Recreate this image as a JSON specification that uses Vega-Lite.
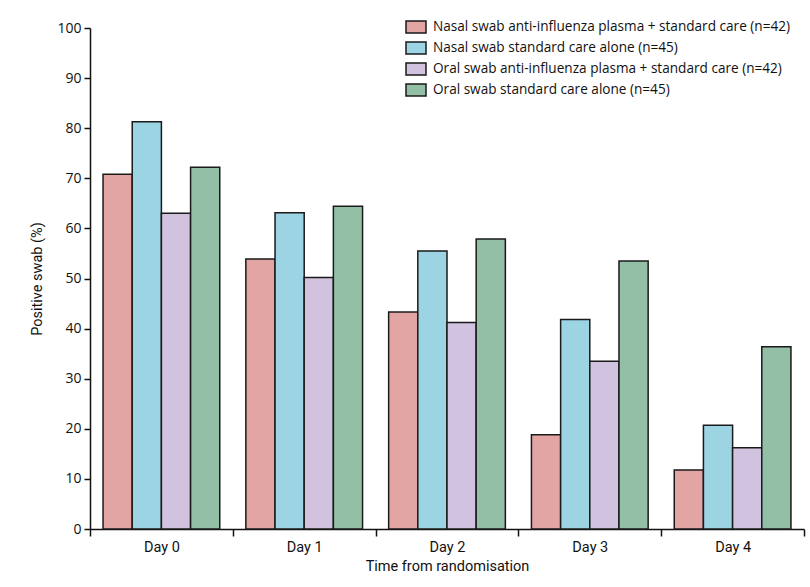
{
  "$schema": "https://vega.github.io/schema/vega-lite/v6.json",
  "width": 714,
  "height": 501,
  "autosize": {"type": "none"},
  "padding": {"left": 90, "top": 28, "right": 6, "bottom": 58},
  "background": "white",
  "config": {
    "view": {"stroke": null},
    "font": "Roboto",
    "axis": {"domainColor": "#111", "tickColor": "#111", "labelColor": "#111", "titleColor": "#111", "grid": false, "labelFontWeight": "normal", "titleFontWeight": "normal"}
  },
  "data": {
    "values": [
      {"day": "Day 0", "group": "Nasal swab anti-influenza plasma + standard care (n=42)", "pct": 70.8},
      {"day": "Day 0", "group": "Nasal swab standard care alone (n=45)", "pct": 81.3},
      {"day": "Day 0", "group": "Oral swab anti-influenza plasma + standard care (n=42)", "pct": 63.0},
      {"day": "Day 0", "group": "Oral swab standard care alone (n=45)", "pct": 72.2},
      {"day": "Day 1", "group": "Nasal swab anti-influenza plasma + standard care (n=42)", "pct": 53.9},
      {"day": "Day 1", "group": "Nasal swab standard care alone (n=45)", "pct": 63.1},
      {"day": "Day 1", "group": "Oral swab anti-influenza plasma + standard care (n=42)", "pct": 50.2},
      {"day": "Day 1", "group": "Oral swab standard care alone (n=45)", "pct": 64.4},
      {"day": "Day 2", "group": "Nasal swab anti-influenza plasma + standard care (n=42)", "pct": 43.3},
      {"day": "Day 2", "group": "Nasal swab standard care alone (n=45)", "pct": 55.5},
      {"day": "Day 2", "group": "Oral swab anti-influenza plasma + standard care (n=42)", "pct": 41.2},
      {"day": "Day 2", "group": "Oral swab standard care alone (n=45)", "pct": 57.9},
      {"day": "Day 3", "group": "Nasal swab anti-influenza plasma + standard care (n=42)", "pct": 18.8},
      {"day": "Day 3", "group": "Nasal swab standard care alone (n=45)", "pct": 41.8},
      {"day": "Day 3", "group": "Oral swab anti-influenza plasma + standard care (n=42)", "pct": 33.5},
      {"day": "Day 3", "group": "Oral swab standard care alone (n=45)", "pct": 53.5},
      {"day": "Day 4", "group": "Nasal swab anti-influenza plasma + standard care (n=42)", "pct": 11.8},
      {"day": "Day 4", "group": "Nasal swab standard care alone (n=45)", "pct": 20.7},
      {"day": "Day 4", "group": "Oral swab anti-influenza plasma + standard care (n=42)", "pct": 16.2},
      {"day": "Day 4", "group": "Oral swab standard care alone (n=45)", "pct": 36.4}
    ]
  },
  "mark": {"type": "bar", "stroke": "#1a1a1a", "strokeWidth": 1.5, "opacity": 1},
  "encoding": {
    "x": {
      "field": "day", "type": "nominal", "sort": null,
      "scale": {"paddingInner": 0, "paddingOuter": 0},
      "axis": {"title": "Time from randomisation", "labelAngle": 0, "tickBand": "extent", "tickSize": 7, "labelFontSize": 14.5, "labelPadding": 4, "titleFontSize": 14.5, "titlePadding": 6, "domainWidth": 1.5, "tickWidth": 1.5}
    },
    "xOffset": {
      "field": "group", "type": "nominal", "sort": null,
      "scale": {"paddingInner": 0, "paddingOuter": 0.447}
    },
    "y": {
      "field": "pct", "type": "quantitative",
      "scale": {"domain": [0, 100], "nice": false},
      "axis": {"title": "Positive swab (%)", "values": [0, 10, 20, 30, 40, 50, 60, 70, 80, 90, 100], "tickSize": 6, "labelFont": "Open Sans", "labelFontSize": 14, "labelPadding": 3, "titleFontSize": 14.5, "titlePadding": 12, "domainWidth": 1.5, "tickWidth": 1.5}
    },
    "color": {
      "field": "group", "type": "nominal", "sort": null,
      "scale": {
        "domain": ["Nasal swab anti-influenza plasma + standard care (n=42)", "Nasal swab standard care alone (n=45)", "Oral swab anti-influenza plasma + standard care (n=42)", "Oral swab standard care alone (n=45)"],
        "range": ["#E3A5A3", "#9DD4E4", "#D1C3E0", "#92BFA6"]
      },
      "legend": {
        "title": null, "orient": "none", "legendX": 315, "legendY": -12,
        "padding": 0, "symbolType": "M-1,-0.6H1V0.6H-1Z", "symbolSize": 400,
        "symbolStrokeColor": "#1a1a1a", "symbolStrokeWidth": 1.5, "symbolOpacity": 1,
        "labelFont": "Open Sans", "labelFontSize": 13.6, "labelColor": "#111", "labelOffset": 6, "rowPadding": 1, "labelLimit": 500
      }
    }
  }
}
